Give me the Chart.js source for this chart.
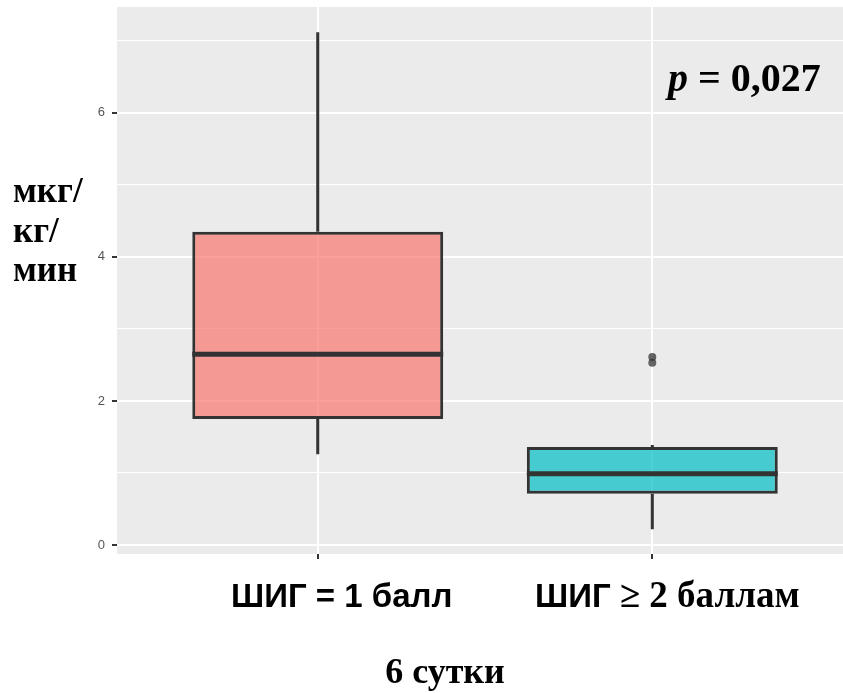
<!DOCTYPE html>
<html>
<head>
<meta charset="utf-8">
<script src="https://cdn.jsdelivr.net/npm/chart.js@4/dist/chart.umd.min.js"></script>
<style>
  body { margin: 0; background: #fff; }
  #wrap { width: 843px; height: 693px; }
</style>
</head>
<body>
<div id="wrap"><canvas id="myChart" width="843" height="693"></canvas></div>
<script>
// группы и значения боксплота
var categories = ['ШИГ = 1 балл', 'ШИГ ≥ 2 баллам'];
var whiskerLow = [1.26, 0.22];
var q1 = [1.75, 0.71];
var median = [2.65, 0.99];
var q3 = [4.35, 1.36];
var whiskerHigh = [7.12, 1.39];
var outlierGroup = [1, 1];
var outlierValues = [2.61, 2.53];
var yTickLabels = [0, 2, 4, 6];
var boxColors = ['rgba(248,118,109,0.7)', 'rgba(0,191,196,0.7)'];

var SERIF = '"Liberation Serif", "Times New Roman", serif';
var SANS = '"Liberation Sans", Arial, sans-serif';

var boxParts = {
    id: 'boxParts',
    beforeDraw: function (chart) {
        var a = chart.chartArea, ctx = chart.ctx;
        ctx.save();
        ctx.fillStyle = '#EBEBEB';
        ctx.fillRect(a.left, a.top, a.right - a.left, a.bottom - a.top);
        ctx.restore();
    },
    beforeDatasetsDraw: function (chart) { // усы под ящиком
        var ctx = chart.ctx, xs = chart.scales.x, ys = chart.scales.y;
        ctx.save();
        ctx.strokeStyle = '#333333';
        ctx.lineWidth = 3;
        for (var i = 0; i < categories.length; i++) {
            var x = xs.getPixelForValue(i);
            ctx.beginPath();
            ctx.moveTo(x, ys.getPixelForValue(whiskerLow[i]));
            ctx.lineTo(x, ys.getPixelForValue(q1[i]));
            ctx.moveTo(x, ys.getPixelForValue(q3[i]));
            ctx.lineTo(x, ys.getPixelForValue(whiskerHigh[i]));
            ctx.stroke();
        }
        ctx.restore();
    },
    afterDatasetsDraw: function (chart) { // медианы
        var ctx = chart.ctx, ys = chart.scales.y;
        var bars = chart.getDatasetMeta(0).data;
        ctx.save();
        ctx.strokeStyle = '#333333';
        ctx.lineWidth = 5;
        for (var i = 0; i < bars.length; i++) {
            var half = bars[i].width / 2;
            var y = ys.getPixelForValue(median[i]);
            ctx.beginPath();
            ctx.moveTo(bars[i].x - half, y);
            ctx.lineTo(bars[i].x + half, y);
            ctx.stroke();
        }
        ctx.restore();
    },
    afterDraw: function (chart) {
        var ctx = chart.ctx, xs = chart.scales.x;
        ctx.save();
        ctx.fillStyle = '#000';
        ctx.textBaseline = 'alphabetic';

        // p = 0,027
        ctx.textAlign = 'left';
        ctx.font = 'italic bold 40px ' + SERIF;
        ctx.fillText('p', 668, 91);
        var pw = ctx.measureText('p').width;
        ctx.font = 'bold 40px ' + SERIF;
        ctx.fillText(' = 0,027', 668 + pw, 91);

        // подпись оси y
        ctx.font = 'bold 35px ' + SERIF;
        ctx.fillText('мкг/', 13, 202);
        ctx.fillText('кг/', 13, 242);
        ctx.fillText('мин', 13, 281);

        // подписи групп
        var shift = [24, 15];
        for (var i = 0; i < categories.length; i++) {
            var cx = xs.getPixelForValue(i) + shift[i];
            var head, tail;
            if (i === 0) { head = categories[i]; tail = ''; }
            else {
                var k = categories[i].indexOf(' ');
                head = categories[i].slice(0, k + 1);
                tail = categories[i].slice(k + 1);
            }
            ctx.font = 'bold 33px ' + SANS;
            var hw = ctx.measureText(head).width;
            ctx.font = 'bold 37px ' + SERIF;
            var tw = tail ? ctx.measureText(tail).width : 0;
            var x0 = cx - (hw + tw) / 2;
            ctx.font = 'bold 33px ' + SANS;
            ctx.fillText(head, x0, 607);
            if (tail) {
                ctx.font = 'bold 37px ' + SERIF;
                ctx.fillText(tail, x0 + hw, 607);
            }
        }

        // 6 сутки
        ctx.textAlign = 'center';
        ctx.font = 'bold 36px ' + SERIF;
        ctx.fillText('6 сутки', 445, 683);
        ctx.restore();
    }
};

var ctx = document.getElementById('myChart').getContext('2d');
var myChart = new Chart(ctx, {
    data: {
        datasets: [{
            type: 'bar',
            data: categories.map(function (c, i) { return { x: i, y: [q1[i], q3[i]] }; }),
            backgroundColor: boxColors,
            borderColor: '#333333',
            borderWidth: 3,
            borderSkipped: false,
            barPercentage: 0.75,
            categoryPercentage: 1
        }, {
            type: 'scatter',
            data: outlierGroup.map(function (g, i) { return { x: g, y: outlierValues[i] }; }),
            pointRadius: 4,
            pointBackgroundColor: 'rgba(51,51,51,0.75)',
            pointBorderWidth: 0
        }]
    },
    options: {
        responsive: false,
        animation: false,
        layout: { autoPadding: false, padding: { left: 0, top: 7, right: 0, bottom: 0 } },
        plugins: { legend: { display: false }, tooltip: { enabled: false } },
        scales: {
            x: {
                type: 'linear',
                min: -0.6,
                max: 1.57,
                offset: false,
                border: { display: false },
                grid: { offset: false, color: '#FFFFFF', lineWidth: 2, tickColor: '#333333', tickLength: 5 },
                ticks: { stepSize: 1, includeBounds: false, callback: function () { return ''; } },
                afterFit: function (scale) { scale.height = 139; scale.paddingLeft = 0; scale.paddingRight = 0; }
            },
            y: {
                min: -0.125,
                max: 7.47,
                border: { display: false },
                grid: {
                    color: '#FFFFFF',
                    lineWidth: function (c) { return c.tick && c.tick.value % 2 === 0 ? 2 : 1; },
                    tickColor: function (c) { return c.tick && c.tick.value % 2 === 0 ? '#333333' : 'rgba(0,0,0,0)'; },
                    tickLength: 5
                },
                ticks: {
                    stepSize: 1,
                    includeBounds: false,
                    padding: 7,
                    color: '#555555',
                    font: { family: SANS, size: 13 },
                    callback: function (v) { return yTickLabels.indexOf(v) >= 0 ? String(v) : ''; }
                },
                afterFit: function (scale) { scale.width = 117; scale.paddingTop = 0; scale.paddingBottom = 0; }
            }
        }
    },
    plugins: [boxParts]
});
</script>
</body>
</html>
